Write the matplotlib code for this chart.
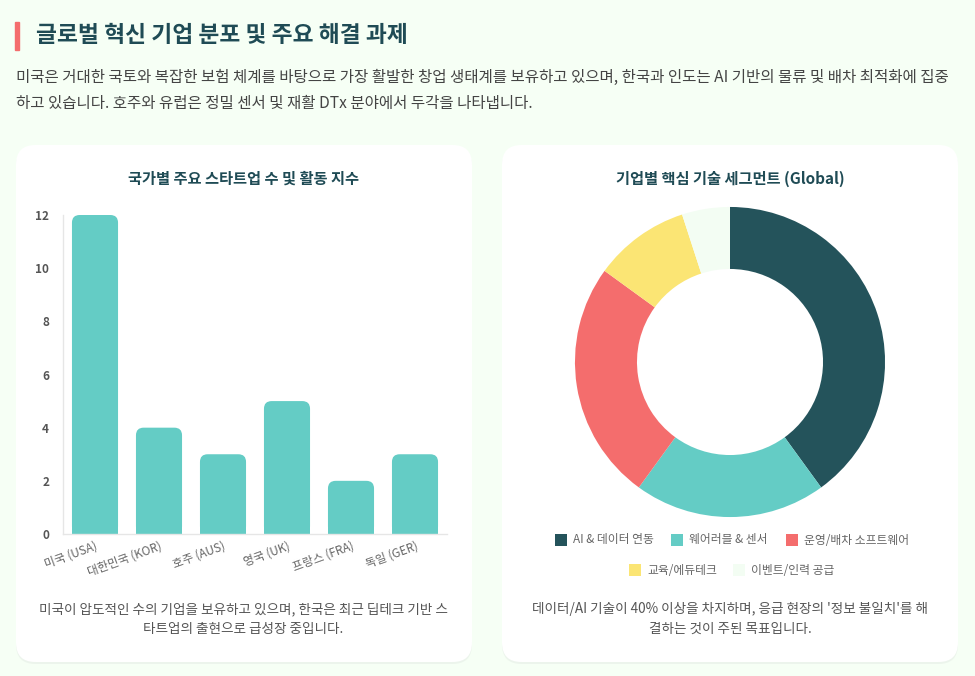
import matplotlib.pyplot as plt
from matplotlib.patches import FancyBboxPatch, Rectangle

plt.rcParams['font.family'] = ['Noto Sans CJK KR', 'DejaVu Sans']

# 데이터
countries = ['미국 (USA)', '대한민국 (KOR)', '호주 (AUS)', '영국 (UK)', '프랑스 (FRA)', '독일 (GER)']
startup_counts = [12, 4, 3, 5, 2, 3]

segments = ['AI & 데이터 연동', '웨어러블 & 센서', '운영/배차 소프트웨어', '교육/에듀테크', '이벤트/인력 공급']
segment_share = [40, 20, 25, 10, 5]
segment_colors = ['#24535B', '#64CCC5', '#F46D6D', '#FBE574', '#F3FDF3']

W, H = 975, 676
BG = '#F6FFF5'
DARK = '#1F4B55'
GRAY = '#555555'


def px(x0, y0, x1, y1):
    # 픽셀 좌표 -> figure 비율
    return [x0 / W, 1 - y1 / H, (x1 - x0) / W, (y1 - y0) / H]


fig = plt.figure(figsize=(W / 100, H / 100), dpi=100, facecolor=BG)

# 제목 영역
fig.patches.append(Rectangle((15 / W, 1 - 50 / H), 4 / W, 28 / H,
                             transform=fig.transFigure, color='#F46D6D'))
fig.text(36 / W, 1 - 36 / H, '글로벌 혁신 기업 분포 및 주요 해결 과제',
         fontsize=16.4, fontweight='bold', color=DARK, va='center')
fig.text(16 / W, 1 - 77 / H,
         '미국은 거대한 국토와 복잡한 보험 체계를 바탕으로 가장 활발한 창업 생태계를 보유하고 있으며, 한국과 인도는 AI 기반의 물류 및 배차 최적화에 집중',
         fontsize=11.2, color='#444444', va='center')
fig.text(16 / W, 1 - 103 / H,
         '하고 있습니다. 호주와 유럽은 정밀 센서 및 재활 DTx 분야에서 두각을 나타냅니다.',
         fontsize=11.2, color='#444444', va='center')

# 카드 배경 (그림자 + 흰 박스)
for x0 in (16, 502):
    shadow = FancyBboxPatch((x0 / W, 1 - 664 / H), 456 / W, 517 / H,
                            boxstyle='round,pad=0,rounding_size=0.02',
                            transform=fig.transFigure, facecolor='#E6EEE6',
                            edgecolor='none', mutation_aspect=W / H, alpha=0.6,
                            zorder=-3)
    card = FancyBboxPatch((x0 / W, 1 - 662 / H), 456 / W, 517 / H,
                          boxstyle='round,pad=0,rounding_size=0.02',
                          transform=fig.transFigure, facecolor='white',
                          edgecolor='none', mutation_aspect=W / H, zorder=-2)
    fig.patches.append(shadow)
    fig.patches.append(card)

# 막대 그래프
ax = fig.add_axes(px(63, 215, 447, 534))
ax.set_facecolor('none')
xs = list(range(len(countries)))
bar_w = 0.72
ax.set_xlim(-0.5, len(countries) - 0.5)
ax.set_ylim(0, 12)
aspect = (384 / 6) / (319 / 12)
for x, v in zip(xs, startup_counts):
    ax.bar(x, v / 2, width=bar_w, color='#64CCC5', zorder=2)
    ax.add_patch(FancyBboxPatch((x - bar_w / 2, 0), bar_w, v,
                                boxstyle='round,pad=0,rounding_size=0.12',
                                mutation_aspect=aspect, facecolor='#64CCC5',
                                edgecolor='none', zorder=2))
ax.set_xticks(xs)
ax.set_xticklabels(countries, rotation=20, ha='right', rotation_mode='anchor',
                   fontsize=8.5, color='#666666')
ax.set_yticks(range(0, 13, 2))
ax.tick_params(axis='y', length=0, pad=10, labelsize=8.5, labelcolor='#555555')
ax.tick_params(axis='x', length=0, pad=4)
for lab in ax.get_yticklabels():
    lab.set_fontweight('bold')
for s in ('top', 'right'):
    ax.spines[s].set_visible(False)
for s in ('left', 'bottom'):
    ax.spines[s].set_color('#E6E6E6')
    ax.spines[s].set_linewidth(1)

fig.text(243 / W, 1 - 179 / H, '국가별 주요 스타트업 수 및 활동 지수',
         fontsize=11, fontweight='bold', color=DARK, ha='center', va='center')
fig.text(243 / W, 1 - 609 / H, '미국이 압도적인 수의 기업을 보유하고 있으며, 한국은 최근 딥테크 기반 스',
         fontsize=9.8, color=GRAY, ha='center', va='center')
fig.text(243 / W, 1 - 629 / H, '타트업의 출현으로 급성장 중입니다.',
         fontsize=9.8, color=GRAY, ha='center', va='center')

# 도넛 차트
ax2 = fig.add_axes(px(570, 202, 890, 522))
ax2.pie(segment_share, colors=segment_colors, startangle=90, counterclock=False,
        radius=1, wedgeprops=dict(width=0.4, linewidth=0))
ax2.set_xlim(-1.032, 1.032)
ax2.set_ylim(-1.032, 1.032)
ax2.set_aspect('equal')
ax2.axis('off')

fig.text(730 / W, 1 - 179 / H, '기업별 핵심 기술 세그먼트 (Global)',
         fontsize=11, fontweight='bold', color=DARK, ha='center', va='center')

# 범례 (두 줄, 가운데 정렬)
legend_pos = [(555, 540), (671, 540), (786, 540), (629, 570), (733, 570)]
for (lx, ly), name, col in zip(legend_pos, segments, segment_colors):
    fig.patches.append(Rectangle((lx / W, 1 - (ly + 6) / H), 12 / W, 12 / H,
                                 transform=fig.transFigure, facecolor=col,
                                 edgecolor='none'))
    fig.text((lx + 18) / W, 1 - ly / H, name, fontsize=8.5, color='#666666',
             va='center')

fig.text(730 / W, 1 - 609 / H, "데이터/AI 기술이 40% 이상을 차지하며, 응급 현장의 '정보 불일치'를 해",
         fontsize=9.8, color=GRAY, ha='center', va='center')
fig.text(730 / W, 1 - 629 / H, '결하는 것이 주된 목표입니다.',
         fontsize=9.8, color=GRAY, ha='center', va='center')

fig.savefig('out.png', dpi=100, facecolor=BG)
